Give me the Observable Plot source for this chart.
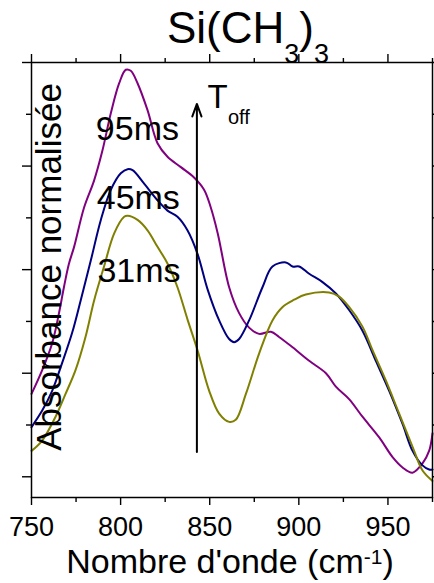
<!DOCTYPE html>
<html><head><meta charset="utf-8">
<script src="https://cdn.jsdelivr.net/npm/d3@7"></script>
<script src="https://cdn.jsdelivr.net/npm/@observablehq/plot@0.6"></script>
<style>body{margin:0;background:#fff} #chart{width:434px;height:583px}</style>
</head><body><div id="chart"></div>
<script>
const FONT = "Liberation Sans, Arial, Helvetica, sans-serif";

// 95 ms (purple)
const wn95 = [750,756.0,761.6,765.3,768.2,770.9,773.9,779.5,785.1,789.8,794.5,799.2,802.9,805.7,809.5,815.1,820.7,826.3,833.8,841.2,846.9,850.6,854.5,860.9,866.5,872.1,877.7,884.3,888.9,896.5,905.8,915.2,920.8,928.2,935.7,945.1,952.6,958.2,963.8,969.4,973.1,975];
const abs95 = [0.80,1.03,1.29,1.57,1.83,2.05,2.22,2.60,2.86,3.15,3.51,3.80,3.93,3.92,3.80,3.54,3.22,3.09,2.99,2.89,2.77,2.60,2.35,1.83,1.58,1.44,1.38,1.40,1.35,1.25,1.12,1.00,0.87,0.75,0.58,0.38,0.19,0.09,0.04,0.13,0.25,0.42];

// 45 ms (navy)
const wn45 = [750,756.0,761.6,767.2,772.8,777.7,783.3,788.9,794.5,800.1,803.9,806.7,813.2,820.7,826.3,831.9,837.5,843.2,848.8,855.3,860.9,863.7,866.5,872.1,879.6,885.2,892.7,896.5,900.2,905.8,913.3,920.8,928.2,935.7,943.2,950.7,958.2,963.8,969.4,973.1,975];
const abs45 = [0.48,0.64,0.83,1.10,1.39,1.71,2.09,2.48,2.77,2.93,2.97,2.96,2.83,2.67,2.57,2.51,2.38,2.15,1.81,1.51,1.33,1.30,1.33,1.51,1.83,2.03,2.07,2.03,2.03,1.96,1.88,1.77,1.61,1.41,1.12,0.83,0.51,0.25,0.11,0.07,0.07];

// 31 ms (olive)
const wn31 = [750,756.0,763.5,769.1,774.7,780.3,785.1,790.7,796.4,802.0,803.9,809.5,815.1,820.7,826.3,831.9,837.7,843.2,849.7,855.3,860.9,864.6,870.3,877.7,885.2,890.9,897.4,903.9,917.0,922.6,928.2,935.7,941.4,948.8,956.3,963.8,969.4,975];
const abs31 = [0.25,0.35,0.58,0.80,1.03,1.35,1.70,2.03,2.35,2.51,2.52,2.48,2.38,2.22,2.06,1.83,1.51,1.22,0.83,0.61,0.53,0.55,0.80,1.19,1.51,1.64,1.71,1.76,1.78,1.74,1.64,1.45,1.22,0.93,0.61,0.29,0.06,-0.04];

const seriesNames = ["95ms","45ms","31ms"];
const seriesColors = ["#800080","#000080","#808000"];
const labelX = [786.1, 786.6, 787.0];
const labelY = [3.25, 2.59, 1.88];

const xTicks = [750,800,850,900,950];
const xMinor = [775,825,875,925,975];
const yTicks = [0,1,2,3,4];
const yMinor = [0.5,1.5,2.5,3.5];

const arrowPos = [{x: 842.8, y1: 0.24, y2: 3.60}];
const toffPos = [{x: 848.8, y: 3.56, xs: 860.2, ys: 3.41}];

const toRows = (wn, ab) => wn.map((x, i) => ({x, y: ab[i]}));
const rows95 = toRows(wn95, abs95);
const rows45 = toRows(wn45, abs45);
const rows31 = toRows(wn31, abs31);
const labelRows = seriesNames.map((s, i) => ({s, x: labelX[i], y: labelY[i]}));

const empty = () => "";
const plot = Plot.plot({
  width: 434, height: 583,
  marginLeft: 31, marginRight: 2, marginTop: 62, marginBottom: 86,
  x: {domain: [750, 975]},
  y: {domain: [-0.2, 4]},
  style: {fontFamily: FONT, background: "#fff", color: "#000", overflow: "visible"},
  marks: [
    Plot.axisX({anchor: "bottom", ticks: xTicks, tickSize: 8, tickPadding: 11, fontSize: 27, label: null, strokeWidth: 1.4}),
    Plot.axisX({anchor: "bottom", ticks: xMinor, tickSize: 5, tickFormat: empty, label: null, strokeWidth: 1.4}),
    Plot.axisX({anchor: "top", ticks: xTicks, tickSize: 9, tickFormat: empty, label: null, strokeWidth: 1.4}),
    Plot.axisX({anchor: "top", ticks: xMinor, tickSize: 5, tickFormat: empty, label: null, strokeWidth: 1.4}),
    Plot.axisY({anchor: "left", ticks: yTicks, tickSize: 9, tickFormat: empty, label: null, strokeWidth: 1.4}),
    Plot.axisY({anchor: "left", ticks: yMinor, tickSize: 5, tickFormat: empty, label: null, strokeWidth: 1.4}),
    Plot.axisY({anchor: "right", ticks: yTicks, tickSize: 9, tickFormat: empty, label: null, strokeWidth: 1.4}),
    Plot.axisY({anchor: "right", ticks: yMinor, tickSize: 5, tickFormat: empty, label: null, strokeWidth: 1.4}),
    Plot.line(rows95, {x: "x", y: "y", stroke: seriesColors[0], strokeWidth: 2, curve: "catmull-rom"}),
    Plot.line(rows45, {x: "x", y: "y", stroke: seriesColors[1], strokeWidth: 2, curve: "catmull-rom"}),
    Plot.line(rows31, {x: "x", y: "y", stroke: seriesColors[2], strokeWidth: 2, curve: "catmull-rom"}),
    Plot.arrow(arrowPos, {x: "x", y1: "y1", y2: "y2", stroke: "#000", strokeWidth: 2, headLength: 10, headAngle: 40}),
    Plot.text(toffPos, {x: "x", y: "y", text: () => "T", fontSize: 33, textAnchor: "start", lineAnchor: "bottom", fill: "#000"}),
    Plot.text(toffPos, {x: "xs", y: "ys", text: () => "off", fontSize: 20, textAnchor: "start", lineAnchor: "bottom", fill: "#000"}),
    Plot.text(labelRows, {x: "x", y: "y", text: "s", fontSize: 34, textAnchor: "start", lineAnchor: "bottom", fill: "#000"}),
    Plot.frame({stroke: "#000", strokeWidth: 1.5})
  ]
});

const svg = d3.select(plot);
// Title
const t = svg.append("text").attr("x", 167).attr("y", 43).attr("font-size", 44).attr("font-family", FONT).attr("text-anchor", "start").attr("fill", "#000");
t.append("tspan").text("Si(CH");
t.append("tspan").attr("font-size", 27).attr("dy", 20).text("3");
t.append("tspan").attr("dy", -20).text(")");
t.append("tspan").attr("font-size", 27).attr("dy", 20).text("3");
// X label
const xl = svg.append("text").attr("x", 230).attr("y", 573).attr("font-size", 34).attr("font-family", FONT).attr("text-anchor", "middle").attr("fill", "#000");
xl.append("tspan").text("Nombre d'onde (cm");
xl.append("tspan").attr("font-size", 21).attr("dy", -9).text("-1");
xl.append("tspan").attr("dy", 9).text(")");
// Y label
svg.append("text").attr("transform", "translate(61,267) rotate(-90)").attr("font-size", 35).attr("font-family", FONT).attr("text-anchor", "middle").attr("fill", "#000").text("Absorbance normalisée");

document.getElementById("chart").appendChild(plot);
</script>
</body></html>
